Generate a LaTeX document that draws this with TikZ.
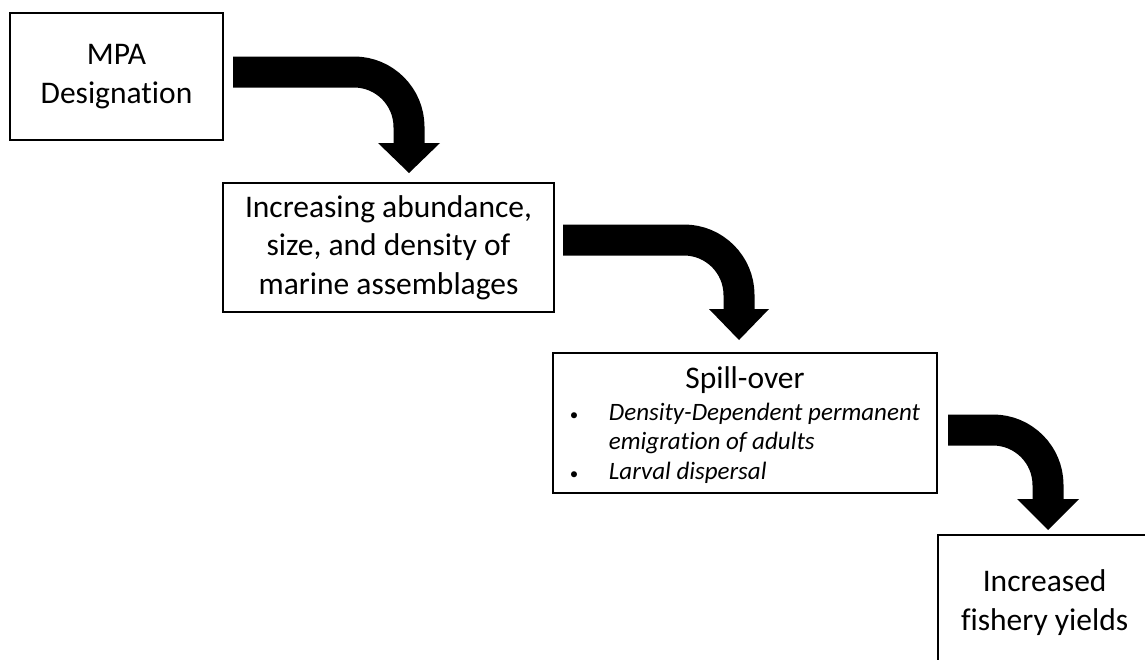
\documentclass[tikz,border=0pt]{standalone}
\usepackage{fontspec}
\setmainfont{Carlito}[Ligatures=NoCommon]

\begin{document}
\begin{tikzpicture}[x=1pt, y=-1pt,
  box/.style={draw, line width=2.2pt, align=center, inner sep=0pt,
    font=\fontsize{31.5}{38.5}\selectfont},
  shaft/.style={line width=31pt, rounded corners=55pt},
  head/.style={fill=black}
]
\useasboundingbox (0,0) rectangle (1145,659);
\clip (0,0) rectangle (1145,659);

% boxes
\node[box, minimum width=213pt, minimum height=127pt] (mpa) at (116.5,76.5)
  {MPA\\Designation};
\node[box, minimum width=331pt, minimum height=129pt] (abund) at (388.5,247.5)
  {Increasing abundance,\\size, and density of\\marine assemblages};
\node[box, minimum width=384pt, minimum height=140pt] (spill) at (745,423)
  {\fontsize{25}{29.5}\selectfont
   \raisebox{-4.5pt}[\height][\depth]{%
   \begin{tabular}{@{}l@{}l@{}}
   \multicolumn{2}{c}{\fontsize{31.5}{38.5}\selectfont Spill-over}\\[2pt]
   \makebox[39pt][l]{\fontsize{17}{20}\selectfont\textbullet} & \textit{Density-Dependent permanent}\\
   & \textit{emigration of adults}\\
   \makebox[39pt][l]{\fontsize{17}{20}\selectfont\textbullet} & \textit{Larval dispersal}
   \end{tabular}}};
\node[box, anchor=north west, minimum width=213pt, inner ysep=35pt, text depth=60pt]
  (yield) at (937,534) {Increased\\fishery yields};

% bent arrows
\coordinate (a1s) at (233,72);
\coordinate (a1t) at (409,173);
\coordinate (a2s) at (563,240);
\coordinate (a2t) at (739,340);
\coordinate (a3s) at (948,430);
\coordinate (a3t) at (1048,530);

\draw[shaft] (a1s) -- (a1s -| a1t) -- ([yshift=29pt]a1t);
\fill[head] (a1t) -- ++(-31,-30) -- ++(62,0) -- cycle;

\draw[shaft] (a2s) -- (a2s -| a2t) -- ([yshift=29pt]a2t);
\fill[head] (a2t) -- ++(-30,-31) -- ++(60,0) -- cycle;

\draw[shaft] (a3s) -- (a3s -| a3t) -- ([yshift=29pt]a3t);
\fill[head] (a3t) -- ++(-31,-31) -- ++(62,0) -- cycle;

\end{tikzpicture}
\end{document}
